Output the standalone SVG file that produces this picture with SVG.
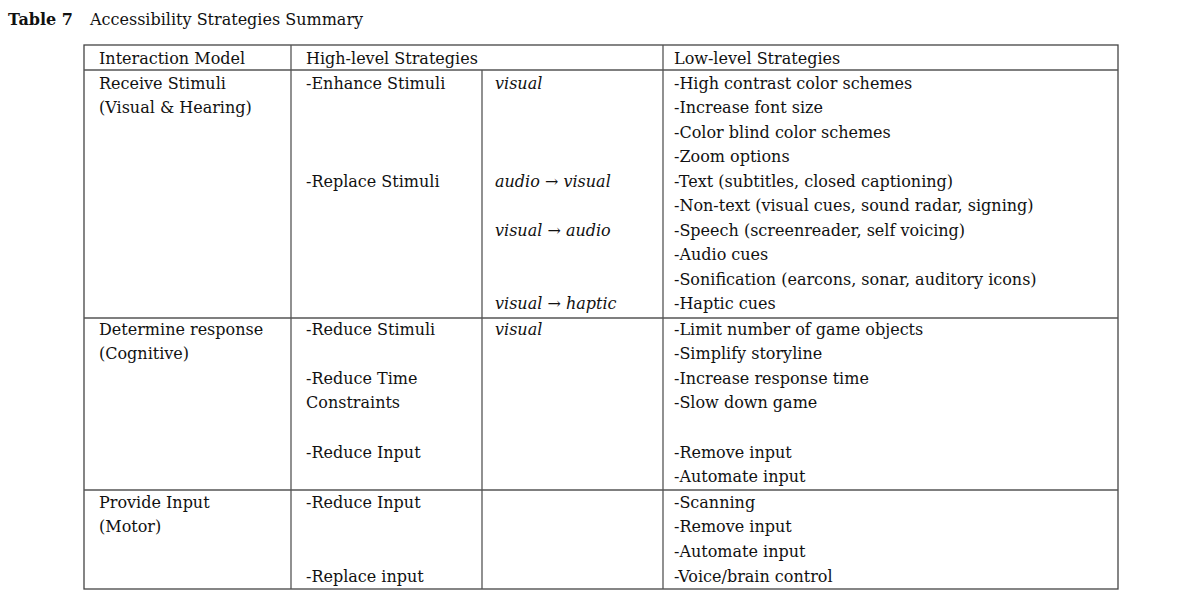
<svg xmlns="http://www.w3.org/2000/svg" width="1194" height="614" viewBox="0 0 1194 614">
<style>
text{font-family:"DejaVu Serif","Liberation Serif",serif;font-size:16px;fill:#111}
.i{font-style:italic}
.b{font-weight:bold}
line{stroke:#555;stroke-width:1.3}
</style>
<rect width="1194" height="614" fill="#fff"/>
<text x="8" y="25" class="b">Table 7</text><text x="90" y="25">Accessibility Strategies Summary</text>
<g id="grid">
<rect x="84" y="45" width="1034" height="544" fill="none" stroke="#444" stroke-width="1.3"/>
<line x1="84" y1="70" x2="1118" y2="70"/>
<line x1="84" y1="318" x2="1118" y2="318"/>
<line x1="84" y1="490" x2="1118" y2="490"/>
<line x1="291" y1="45" x2="291" y2="589"/>
<line x1="482" y1="70" x2="482" y2="589"/>
<line x1="663" y1="45" x2="663" y2="589"/>
</g>
<g id="header">
<text x="99" y="64">Interaction Model</text>
<text x="306" y="64">High-level Strategies</text>
<text x="674" y="64">Low-level Strategies</text>
</g>
<g id="row1">
<text x="99" y="89">Receive Stimuli</text>
<text x="99" y="113">(Visual &amp; Hearing)</text>
<text x="306" y="89">-Enhance Stimuli</text>
<text x="306" y="187">-Replace Stimuli</text>
<text x="495" y="89" class="i">visual</text>
<text x="495" y="187"><tspan class="i">audio</tspan> → <tspan class="i">visual</tspan></text>
<text x="495" y="236"><tspan class="i">visual</tspan> → <tspan class="i">audio</tspan></text>
<text x="495" y="309"><tspan class="i">visual</tspan> → <tspan class="i">haptic</tspan></text>
<text x="674" y="89">-High contrast color schemes</text>
<text x="674" y="113">-Increase font size</text>
<text x="674" y="138">-Color blind color schemes</text>
<text x="674" y="162">-Zoom options</text>
<text x="674" y="187">-Text (subtitles, closed captioning)</text>
<text x="674" y="211">-Non-text (visual cues, sound radar, signing)</text>
<text x="674" y="236">-Speech (screenreader, self voicing)</text>
<text x="674" y="260">-Audio cues</text>
<text x="674" y="285">-Sonification (earcons, sonar, auditory icons)</text>
<text x="674" y="309">-Haptic cues</text>
</g>
<g id="row2">
<text x="99" y="335">Determine response</text>
<text x="99" y="359">(Cognitive)</text>
<text x="306" y="335">-Reduce Stimuli</text>
<text x="306" y="384">-Reduce Time</text>
<text x="306" y="408">Constraints</text>
<text x="306" y="458">-Reduce Input</text>
<text x="495" y="335" class="i">visual</text>
<text x="674" y="335">-Limit number of game objects</text>
<text x="674" y="359">-Simplify storyline</text>
<text x="674" y="384">-Increase response time</text>
<text x="674" y="408">-Slow down game</text>
<text x="674" y="458">-Remove input</text>
<text x="674" y="482">-Automate input</text>
</g>
<g id="row3">
<text x="99" y="508">Provide Input</text>
<text x="99" y="532">(Motor)</text>
<text x="306" y="508">-Reduce Input</text>
<text x="306" y="582">-Replace input</text>
<text x="674" y="508">-Scanning</text>
<text x="674" y="532">-Remove input</text>
<text x="674" y="557">-Automate input</text>
<text x="674" y="582">-Voice/brain control</text>
</g>
</svg>
